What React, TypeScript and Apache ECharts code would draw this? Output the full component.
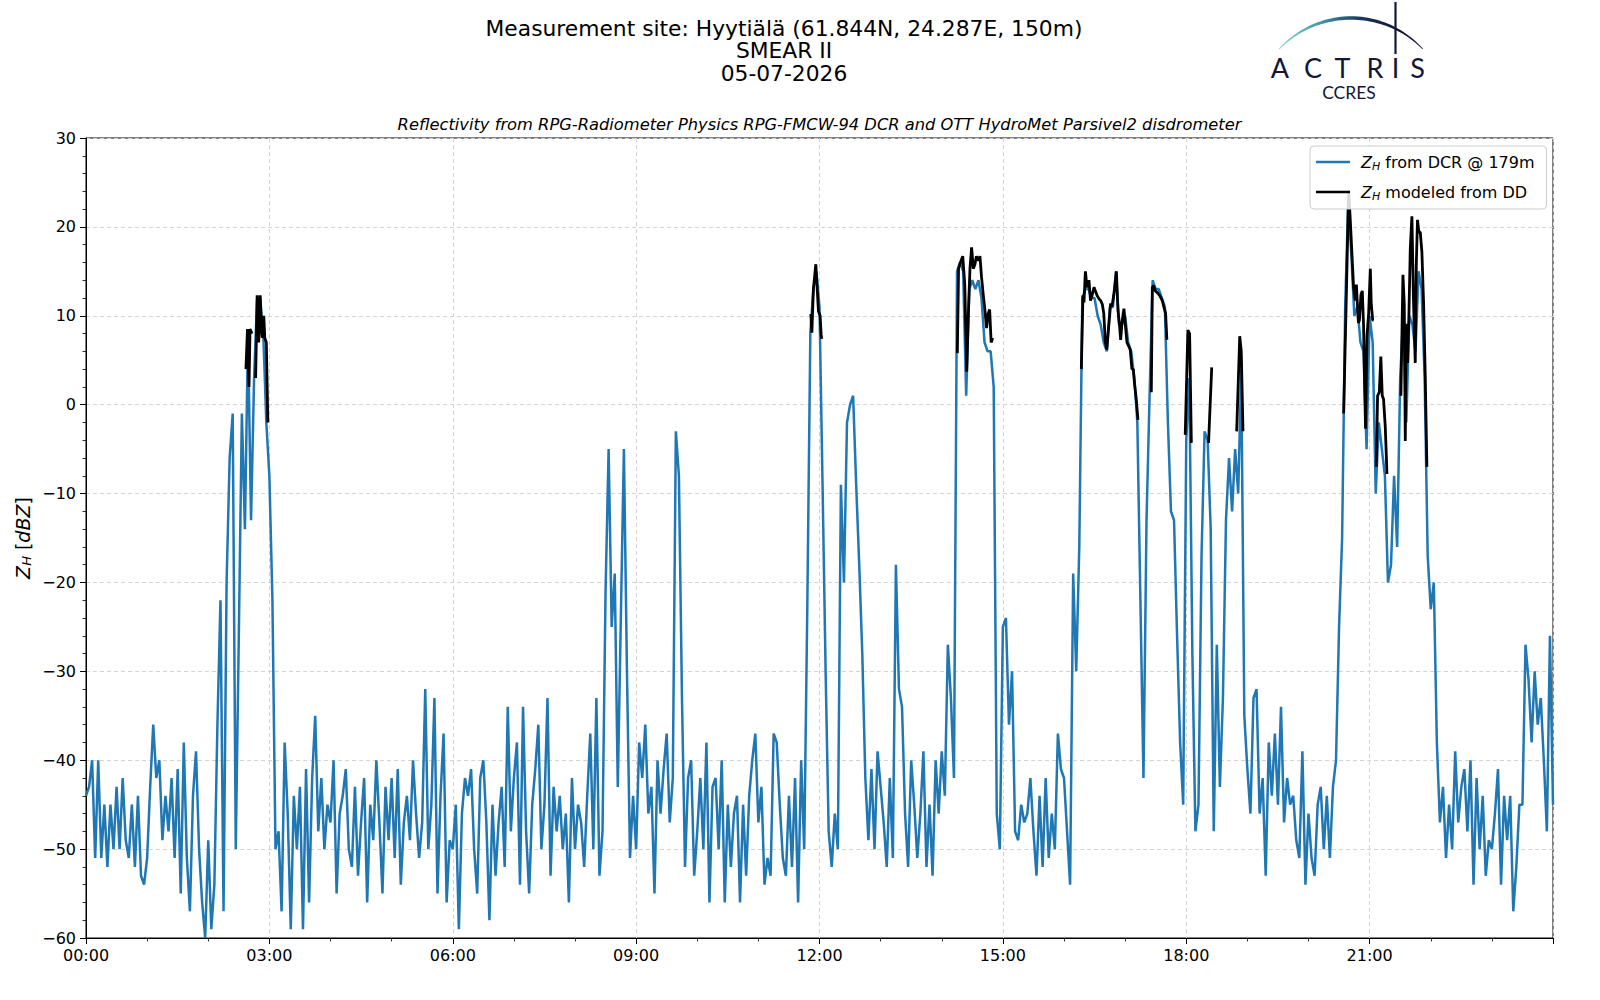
import React, { useEffect, useRef } from 'react';
import * as echarts from 'echarts';

// ---------------- data ----------------
const STEP_MIN = 3; // DCR samples every 3 minutes, from 00:00

// 00:00 - 05:57
const dcrNight = [
  -44, -43, -40, -51, -40, -51, -45, -52, -45, -50, -43, -50, -42, -49, -51, -45, -52, -44, -53, -54,
  -51, -43, -36, -42, -40, -49, -44, -48, -42, -51, -41, -55, -38, -51, -57, -44, -39, -50, -56, -60,
  -49, -59, -54, -36, -22, -57, -20, -6, -1, -50, -26, -1, -14, 8, -13, 3, 12, 12, 8, -2,
  -8, -22, -50, -48, -57, -38, -46, -59, -44, -50, -43, -59, -41, -56, -42, -35, -48, -42, -50, -45,
  -47, -40, -55, -46, -44, -41, -50, -52, -43, -53, -47, -42, -56, -45, -49, -40, -47, -55, -43, -49,
  -42, -51, -41, -54, -47, -44, -49, -40, -46, -51, -47, -32, -50, -45, -33, -55, -44, -37, -56, -49,
];
// 06:00 - 11:57
const dcrMorning = [
  -50, -45, -59, -46, -42, -44, -41, -50, -55, -42, -40, -47, -58, -45, -53, -47, -43, -52, -34, -48,
  -42, -38, -54, -34, -48, -55, -45, -41, -36, -50, -45, -33, -53, -43, -48, -44, -50, -46, -56, -42,
  -50, -45, -47, -52, -44, -37, -50, -33, -53, -48, -21, -5, -25, -19, -43, -24, -5, -30, -51, -44,
  -50, -38, -42, -36, -46, -43, -55, -40, -46, -41, -37, -47, -42, -3, -8, -33, -52, -42, -40, -53,
  -48, -42, -50, -38, -56, -43, -42, -50, -40, -56, -45, -52, -46, -44, -56, -45, -53, -44, -40, -37,
  -47, -43, -54, -51, -53, -37, -38, -45, -51, -53, -44, -52, -42, -56, -40, -50, -23, 8, 13, 15,
];
// 12:00 - 17:57
const dcrAfternoon = [
  11, -9, -30, -48, -52, -46, -50, -9, -20, -2, 0, 1, -9, -18, -28, -42, -49, -41, -50, -39,
  -43, -47, -52, -42, -51, -18, -32, -34, -46, -52, -40, -45, -51, -46, -39, -52, -45, -53, -40, -46,
  -39, -44, -27, -33, -42, 15, 16, 15, 1, 13, 14, 13, 14, 12, 7, 6, 6, 2, -46, -50,
  -25, -24, -36, -30, -48, -49, -45, -47, -46, -42, -48, -53, -44, -52, -42, -51, -46, -50, -37, -41,
  -42, -48, -54, -19, -30, -16, 12, 13, 13, 12, 12, 10, 9, 7, 6, 11, 11, 15, 9, 9,
  10, 7, 6, 3, -2, -22, -42, -13, 1, 14, 13, 13, 12, 11, -2, -12, -13, -26, -38, -45,
];
// 18:00 - 24:00
const dcrEvening = [
  -4, 3, -28, -48, -45, -17, -3, -4, -14, -48, -27, -43, -33, -13, -6, -12, -5, -10, 4, -35,
  -41, -46, -33, -32, -46, -42, -53, -38, -44, -37, -45, -34, -47, -42, -45, -44, -49, -51, -39, -54,
  -46, -51, -53, -45, -43, -50, -44, -51, -43, -40, -25, -15, 11, 23, 17, 10, 11, 7, 6, -5,
  10, 7, -10, -2, -5, -8, -20, -18, -8, -16, 3, 10, -2, 10, 9, 6, 15, 13, 3, -17,
  -23, -20, -38, -47, -43, -51, -45, -50, -39, -47, -43, -41, -48, -40, -54, -42, -50, -44, -53, -49,
  -50, -46, -41, -54, -44, -49, -44, -57, -52, -45, -45, -27, -31, -38, -30, -36, -33, -40, -48, -26, -45,
];

// Z_H modeled from the disdrometer: [minute of day, dBZ], one array per rain spell
const dd0237 = [[157, 4], [158.5, 8.5], [160, 2], [161, 8.5], [163, 8]];
const dd0246 = [[166.5, 3], [168, 12.3], [169.5, 7], [171, 12.3], [172, 9], [173, 7.5], [174.5, 10], [175.5, 7.5], [177, 7], [178.5, -2]];
const dd1151 = [[711.5, 10.2], [712.5, 8.1], [714, 13], [716.4, 15.8], [717.5, 13.5], [719, 10.5], [720.6, 10], [721.6, 7.9], [722.2, 7.4]];
const dd1415 = [[855.3, 5.8], [856.5, 15.3], [858.3, 16], [860.6, 16.7], [862.6, 13.5], [864.5, 3.7], [866, 9.8], [867.7, 15.3], [869.3, 17.7], [871, 15.3], [872.6, 15.8], [874, 16.7], [876, 16.2], [877.5, 16.7], [879, 14.4], [880.8, 12.3], [882.5, 10.5], [884, 8.6], [885.5, 10.2], [887, 10.7], [888.5, 7], [890, 7.5]];
const dd1617 = [[977, 4], [978.6, 12.3], [979.6, 11.5], [981, 15], [982.6, 13.2], [984.5, 14], [986, 11.7], [987.5, 12.3], [989.5, 13.2], [990.8, 12.8], [992.4, 12.3], [994.4, 11.9], [996, 11.7], [997.6, 11.3], [999, 10.3], [1000.6, 7], [1002, 6.2], [1003.9, 8.8], [1005.8, 11.4], [1007, 11], [1008.8, 12.3], [1009.7, 13.2], [1011.4, 15], [1013, 10.6], [1014.6, 8.8], [1015.6, 7.3], [1017, 9.3], [1018.8, 10.8], [1020, 9.3], [1021.8, 7], [1023.4, 6.6], [1025, 6.2], [1026.7, 4], [1028, 4], [1029.3, 2.3], [1031, 0.5], [1032.6, -1.7]];
const dd1745 = [[1045.7, 1.4], [1046.7, 13.2], [1048, 13.4], [1049.6, 12.8], [1051.6, 12.6], [1053.8, 12.3], [1056.5, 11.7], [1058, 11], [1059.7, 10.3], [1061, 7.3]];
const dd1759 = [[1079, -3.4], [1081.6, 8.4], [1083.3, 8], [1085, -4.3]];
const dd1821 = [[1101.9, -4.3], [1105, 4.2]];
const dd1849 = [[1129.5, -3], [1132.5, 7.7], [1134, 6], [1135.7, -3]];
const dd2034 = [[1234.5, -1], [1237.8, 15.7], [1239.4, 24.1], [1241, 20.8], [1242.7, 16.8], [1244.3, 13.1], [1246, 11.7], [1247, 13.5], [1248, 11.3], [1249, 9.2], [1250, 9.5], [1251.5, 12.4], [1252.8, 12.8], [1254, 9.1], [1255, 2.8], [1256, -2.7], [1257.4, 7.7], [1259, 10.2], [1260.7, 15.3], [1261.6, 11.3], [1263, 9.5], [1264, 9.5]];
const dd2106 = [[1266.5, -7], [1267.8, 1], [1269.5, 1.4], [1271, 5.4], [1272.4, 1], [1273.7, 0.6], [1275.4, -2.6], [1277, -7.8]];
const dd2130 = [[1290.7, 1], [1292.7, 14.6], [1294, 11.3], [1295, -4.1], [1296, 9.1], [1297.3, 4.7], [1298.6, 10.2], [1299.9, 17.5], [1301.5, 21.2], [1303, 12], [1304.8, 4.7], [1305.8, 15.7], [1307, 20.8], [1308.3, 19.4], [1309.7, 19.4], [1311.3, 17.2], [1313, 11.3], [1314.6, 3.2], [1316.2, -7]];

const timeTickLabels = ['00:00', '03:00', '06:00', '09:00', '12:00', '15:00', '18:00', '21:00'];

const titleLines = ['Measurement site: Hyytiälä (61.844N, 24.287E, 150m)', 'SMEAR II', '05-07-2026'];
const subTitle = 'Reflectivity from RPG-Radiometer Physics RPG-FMCW-94 DCR and OTT HydroMet Parsivel2 disdrometer';

// ---------------- chart ----------------
const F = 'DejaVu Sans';

function buildOption() {
  const dcrValues = [...dcrNight, ...dcrMorning, ...dcrAfternoon, ...dcrEvening];
  const dcrData = dcrValues.map((v, i) => [i * STEP_MIN, v]);
  const spells = [dd0237, dd0246, dd1151, dd1415, dd1617, dd1745, dd1759, dd1821, dd1849, dd2034, dd2106, dd2130];
  const ddData: any[] = [];
  spells.forEach((s, k) => {
    if (k > 0) ddData.push([s[0][0] - 0.2, '-']);
    s.forEach((p) => ddData.push(p));
  });

  // logo crescent (decoration)
  const cx = 1351, cy = 116.5, R = 98.5;
  const a0 = Math.asin(-71.75 / R);
  const outer: number[][] = [];
  const inner: number[][] = [];
  const N = 48;
  for (let i = 0; i <= N; i++) {
    const t = i / N;
    const a = a0 + (-2 * a0) * t;
    const th = 0.7 + 2.8 * Math.sin(Math.PI * t);
    outer.push([cx + (R + th / 2) * Math.sin(a), cy - (R + th / 2) * Math.cos(a)]);
    inner.push([cx + (R - th / 2) * Math.sin(a), cy - (R - th / 2) * Math.cos(a)]);
  }
  const crescent = outer.concat(inner.reverse());

  const subRich = (size: number) => ({
    i: { fontStyle: 'italic', fontSize: size, fontFamily: F, color: '#000', fill: '#000' },
    s: { fontStyle: 'italic', fontSize: Math.round(size * 0.7), fontFamily: F, verticalAlign: 'bottom', lineHeight: Math.round(size * 0.7), color: '#000', fill: '#000' },
    n: { fontSize: size, fontFamily: F, color: '#000', fill: '#000' },
  });

  const navy = '#12173a';
  const logoLetters = [
    ['A', 1280], ['C', 1313], ['T', 1342.5], ['R', 1375], ['I', 1395.5], ['S', 1417.5],
  ];

  return {
    animation: false,
    backgroundColor: '#ffffff',
    textStyle: { fontFamily: F },
    grid: { left: 86, right: 47, top: 138, bottom: 62, show: true, borderColor: '#000', borderWidth: 1, containLabel: false },
    xAxis: {
      type: 'value', min: 0, max: 1440, interval: 180,
      axisLine: { show: true, onZero: false, lineStyle: { color: '#000', width: 1 } },
      axisTick: { show: true, length: 6, lineStyle: { color: '#000', width: 1 } },
      minorTick: { show: true, splitNumber: 3, length: 3.5, lineStyle: { color: '#000', width: 0.8 } },
      axisLabel: {
        show: true, color: '#000', fontSize: 16, fontFamily: F, margin: 9, showMaxLabel: false,
        formatter: (v: number) => timeTickLabels[Math.round(v / 180)] ?? '',
      },
      splitLine: { show: true, lineStyle: { color: '#d3d3d3', type: [4, 3], width: 1 } },
    },
    yAxis: {
      type: 'value', min: -60, max: 30, interval: 10,
      axisLine: { show: true, onZero: false, lineStyle: { color: '#000', width: 1 } },
      axisTick: { show: true, length: 6, lineStyle: { color: '#000', width: 1 } },
      minorTick: { show: true, splitNumber: 5, length: 3.5, lineStyle: { color: '#000', width: 0.8 } },
      axisLabel: {
        show: true, color: '#000', fontSize: 16, fontFamily: F, margin: 10,
        formatter: (v: number) => (v < 0 ? '\u2212' + Math.abs(v) : String(v)),
      },
      splitLine: { show: true, lineStyle: { color: '#d3d3d3', type: [4, 3], width: 1 } },
    },
    legend: {
      orient: 'vertical', left: 1310, top: 146,
      data: ['dcr', 'dd'],
      icon: 'rect', itemWidth: 34, itemHeight: 2.6, itemGap: 10,
      padding: [6, 12, 7, 6],
      backgroundColor: 'rgba(255,255,255,0.85)', borderColor: '#cccccc', borderWidth: 1, borderRadius: 4,
      formatter: (name: string) => (name === 'dcr' ? '{i|Z}{s|H} from DCR @ 179m' : '{i|Z}{s|H} modeled from DD'),
      textStyle: { color: '#000', fontSize: 16, fontFamily: F, lineHeight: 20, padding: [0, 0, 0, 6], rich: subRich(16) },
    },
    series: [
      {
        name: 'dcr', type: 'line', data: dcrData, showSymbol: false, symbol: 'none',
        lineStyle: { color: '#1f77b4', width: 2.5 }, itemStyle: { color: '#1f77b4' }, z: 2,
      },
      {
        name: 'dd', type: 'line', data: ddData, showSymbol: false, symbol: 'none', connectNulls: false,
        lineStyle: { color: '#000000', width: 2.8 }, itemStyle: { color: '#000000' }, z: 3,
      },
    ],
    graphic: [
      ...titleLines.map((t, k) => ({
        type: 'text', x: 784, y: 28 + k * 22.5, z: 10,
        style: { text: t, fontSize: 21.8, fontFamily: F, fill: '#000', align: 'center', verticalAlign: 'middle' },
      })),
      {
        type: 'text', x: 819.5, y: 124, z: 10,
        style: { text: subTitle, fontSize: 16.3, fontStyle: 'italic', fontFamily: F, fill: '#000', align: 'center', verticalAlign: 'middle' },
      },
      {
        type: 'text', x: 23, y: 538, rotation: Math.PI / 2, z: 10,
        style: {
          text: '{i|Z}{s|H}{n| [}{i|dBZ}{n|]}', fontSize: 19, fontFamily: F, fill: '#000',
          align: 'center', verticalAlign: 'middle', rich: subRich(19),
        },
      },
      // ACTRIS logo
      {
        type: 'polygon', z: 10,
        shape: { points: crescent },
        style: {
          fill: new echarts.graphic.LinearGradient(0, 0, 1, 0, [
            { offset: 0, color: '#86d3cc' },
            { offset: 0.3, color: '#3f97a3' },
            { offset: 0.55, color: '#1d3b63' },
            { offset: 0.8, color: '#12173a' },
            { offset: 1, color: '#12173a' },
          ]),
        },
      },
      {
        type: 'line', z: 10,
        shape: { x1: 1395.5, y1: 2, x2: 1395.5, y2: 54 },
        style: { stroke: navy, lineWidth: 2.2 },
      },
      ...logoLetters.map(([ch, x]) => ({
        type: 'text', x: x as number, y: 67.5, z: 10,
        style: { text: ch as string, fontSize: 27, fontFamily: 'Lato', fill: navy, align: 'center', verticalAlign: 'middle' },
      })),
      {
        type: 'text', x: 1349, y: 92, z: 10,
        style: { text: 'CCRES', fontSize: 17.5, fontFamily: 'Lato', fill: navy, align: 'center', verticalAlign: 'middle' },
      },
    ],
  };
}

export default function App() {
  const ref = useRef<HTMLDivElement>(null);
  useEffect(() => {
    if (!ref.current) return;
    const chart = echarts.init(ref.current, undefined, { renderer: 'svg' });
    chart.setOption(buildOption() as any);
    return () => chart.dispose();
  }, []);
  return (
    <div
      ref={ref}
      style={{ position: 'fixed', left: 0, top: 0, width: 1600, height: 1000, background: '#fff' }}
    />
  );
}
